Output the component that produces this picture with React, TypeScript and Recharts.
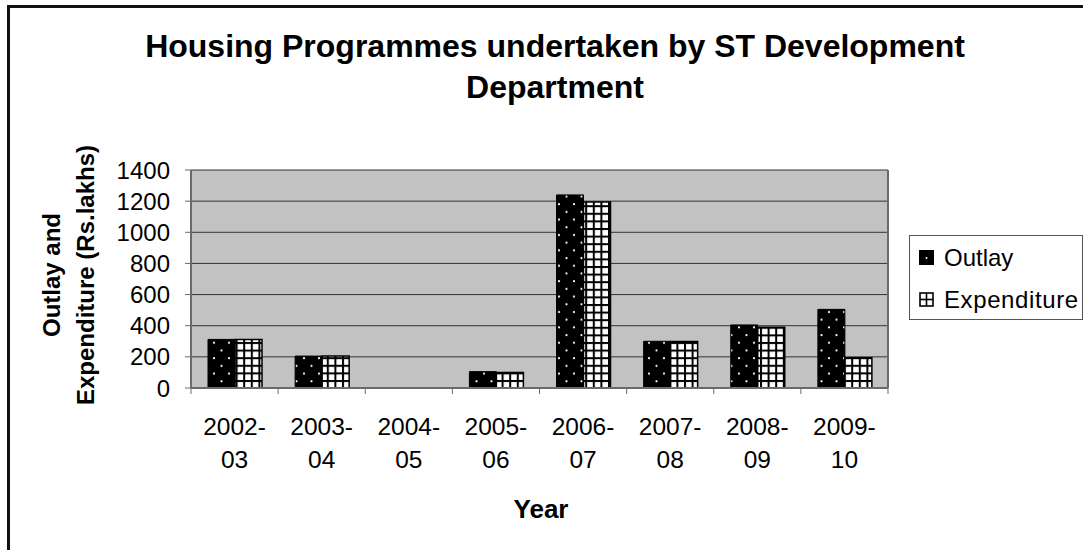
import React from 'react';
import { BarChart, Bar, XAxis, YAxis, CartesianGrid, Legend } from 'recharts';

const categories = ['2002-03', '2003-04', '2004-05', '2005-06', '2006-07', '2007-08', '2008-09', '2009-10'];
const outlay = [312, 205, null, 105, 1240, 300, 405, 505];
const expenditure = [312, 205, null, 100, 1195, 298, 390, 195];
const yTicks = [0, 200, 400, 600, 800, 1000, 1200, 1400];
const seriesNames = ['Outlay', 'Expenditure'];
const titleLines = ['Housing Programmes undertaken by ST Development', 'Department'];
const yLabelLines = ['Outlay and', 'Expenditure (Rs.lakhs)'];
const xLabel = 'Year';

const data = categories.map((c, i) => ({ year: c, outlay: outlay[i], expenditure: expenditure[i] }));

const W = 1083;
const H = 550;
const X_AXIS_H = 100;
const MARGIN = { top: 170, right: 194, bottom: 62, left: 0 };
const YW = 191;
const RW = 1;
const PLOT_W = W - MARGIN.left - MARGIN.right - YW - RW;
const BAND = PLOT_W / categories.length;
const FONT = '"Liberation Sans", Arial, Helvetica, sans-serif';
const AXIS_GRAY = '#6a6a6a';

const XTick = (props: any) => {
  const { x, y, payload, index } = props;
  const label = String(payload.value);
  const dash = label.indexOf('-');
  const l1 = label.slice(0, dash + 1);
  const l2 = label.slice(dash + 1);
  const left = x - BAND / 2;
  const right = x + BAND / 2;
  return (
    <g>
      <line x1={left} x2={left} y1={y} y2={y + 6} stroke={AXIS_GRAY} strokeWidth={1} />
      {index === categories.length - 1 && (
        <line x1={right} x2={right} y1={y} y2={y + 6} stroke={AXIS_GRAY} strokeWidth={1} />
      )}
      <text x={x} y={y + 47} textAnchor="middle" fontSize={24.5} fontFamily={FONT} fill="#000">{l1}</text>
      <text x={x} y={y + 80} textAnchor="middle" fontSize={24.5} fontFamily={FONT} fill="#000">{l2}</text>
    </g>
  );
};

const LegendIcon = ({ kind }: { kind: string }) => (
  <svg width={16} height={16} style={{ display: 'block' }}>
    {kind === 'outlay' ? (
      <g>
        <rect x={0.5} y={0.5} width={14} height={14} fill="#000" stroke="#000" />
        <circle cx={7.5} cy={8} r={1} fill="#fff" />
      </g>
    ) : (
      <g>
        <rect x={1} y={1} width={13} height={13} fill="#fff" stroke="#000" strokeWidth={1.6} />
        <line x1={7.5} x2={7.5} y1={1} y2={14} stroke="#000" strokeWidth={1.6} />
        <line x1={1} x2={14} y1={7.5} y2={7.5} stroke="#000" strokeWidth={1.6} />
      </g>
    )}
  </svg>
);

const renderLegend = () => (
  <div
    style={{
      position: 'relative',
      boxSizing: 'border-box',
      width: 174,
      height: 85,
      border: '1.5px solid #555',
      background: '#fff',
      fontFamily: FONT,
    }}
  >
    {seriesNames.map((name, i) => (
      <div
        key={name}
        style={{
          position: 'absolute',
          left: 9,
          top: 7 + i * 42,
          height: 30,
          display: 'flex',
          alignItems: 'center',
          whiteSpace: 'nowrap',
        }}
      >
        <LegendIcon kind={i === 0 ? 'outlay' : 'expenditure'} />
        <span style={{ marginLeft: 9, fontSize: 24, letterSpacing: i === 1 ? 0.6 : 0, color: '#000' }}>{name}</span>
      </div>
    ))}
  </div>
);

export default function App() {
  return (
    <div
      style={{
        position: 'absolute',
        left: 0,
        top: 0,
        width: W,
        height: H,
        overflow: 'hidden',
        background: '#fff',
        fontFamily: FONT,
      }}
    >
      <BarChart
        width={W}
        height={H}
        data={data}
        margin={MARGIN}
        barCategoryGap={17}
        barGap={0}
      >
        <defs>
          <pattern id="dotsFill" patternUnits="userSpaceOnUse" width={15} height={15.4}>
            <rect x={0} y={0} width={15} height={15.4} fill="#000" />
            <circle cx={4} cy={4} r={1.1} fill="#fff" />
            <circle cx={11.5} cy={11.7} r={1.1} fill="#fff" />
          </pattern>
          <pattern id="gridFill" patternUnits="userSpaceOnUse" width={7.6} height={7.6}>
            <rect x={0} y={0} width={7.6} height={7.6} fill="#fff" />
            <rect x={0} y={0} width={2} height={7.6} fill="#000" />
            <rect x={0} y={0} width={7.6} height={2} fill="#000" />
          </pattern>
        </defs>
        <CartesianGrid
          yAxisId="left"
          vertical={false}
          stroke="#333"
          strokeWidth={1}
          fill="#c2c2c2"
          fillOpacity={1}
        />
        <XAxis
          dataKey="year"
          height={X_AXIS_H}
          interval={0}
          tickSize={0}
          tickMargin={0}
          tickLine={false}
          axisLine={{ stroke: AXIS_GRAY, strokeWidth: 2 }}
          tick={<XTick />}
        />
        <YAxis
          yAxisId="left"
          width={YW}
          domain={[0, 1400]}
          ticks={yTicks}
          interval={0}
          tickSize={6}
          tickMargin={15}
          axisLine={{ stroke: AXIS_GRAY, strokeWidth: 2 }}
          tickLine={{ stroke: AXIS_GRAY }}
          tick={{ fontSize: 24, fill: '#000', fontFamily: FONT }}
        />
        <YAxis
          yAxisId="right"
          orientation="right"
          width={RW}
          domain={[0, 1400]}
          tick={false}
          tickLine={false}
          axisLine={{ stroke: AXIS_GRAY, strokeWidth: 2 }}
        />
        <Bar
          yAxisId="left"
          dataKey="outlay"
          name={seriesNames[0]}
          fill="url(#dotsFill)"
          stroke="#000"
          strokeWidth={1}
          isAnimationActive={false}
        />
        <Bar
          yAxisId="left"
          dataKey="expenditure"
          name={seriesNames[1]}
          fill="url(#gridFill)"
          stroke="#000"
          strokeWidth={1.5}
          isAnimationActive={false}
        />
        <Legend
          layout="vertical"
          align="center"
          verticalAlign="middle"
          wrapperStyle={{ position: 'absolute', left: 909, top: 235, width: 174, height: 85, margin: 0 }}
          content={renderLegend}
        />
      </BarChart>

      <div
        style={{
          position: 'absolute',
          left: 105,
          top: 26,
          width: 900,
          textAlign: 'center',
          fontSize: 32,
          fontWeight: 'bold',
          lineHeight: '41px',
          color: '#000',
          whiteSpace: 'nowrap',
        }}
      >
        {titleLines.map((t) => (
          <div key={t}>{t}</div>
        ))}
      </div>

      <div
        style={{
          position: 'absolute',
          left: 69 - 160,
          top: 275 - 34,
          width: 320,
          height: 68,
          lineHeight: '34px',
          textAlign: 'center',
          fontSize: 24,
          fontWeight: 'bold',
          color: '#000',
          transform: 'rotate(-90deg)',
          transformOrigin: 'center center',
          whiteSpace: 'nowrap',
        }}
      >
        {yLabelLines.map((t) => (
          <div key={t}>{t}</div>
        ))}
      </div>

      <div
        style={{
          position: 'absolute',
          left: 441,
          top: 494,
          width: 200,
          textAlign: 'center',
          fontSize: 26,
          fontWeight: 'bold',
          lineHeight: '30px',
          color: '#000',
        }}
      >
        {xLabel}
      </div>

      <div
        style={{
          position: 'absolute',
          left: 7,
          top: 5,
          width: W + 20,
          height: H + 20,
          borderLeft: '3px solid #111',
          borderTop: '3px solid #111',
          pointerEvents: 'none',
        }}
      />
    </div>
  );
}
